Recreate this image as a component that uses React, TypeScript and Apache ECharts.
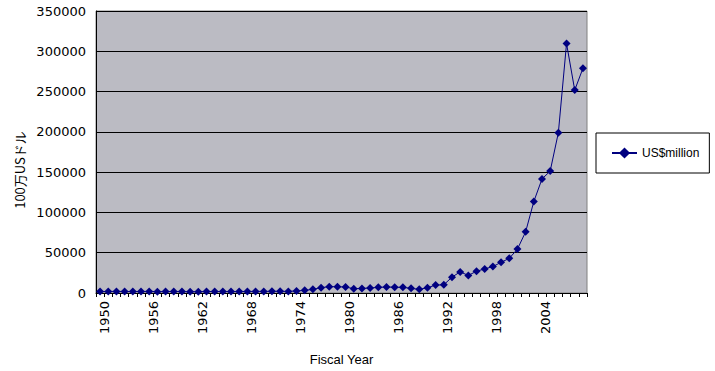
import React, { useEffect, useRef } from "react";
import * as echarts from "echarts";

const years: string[] = [];
for (let y = 1950; y <= 2009; y++) years.push(String(y));

const usMillion: number[] = [
  1800, 1900, 2000, 1900, 1800, 1900, 2000, 1700, 1800, 1900,
  1800, 1600, 1700, 1800, 1900, 1800, 1800, 1800, 1900, 2000,
  2000, 2100, 2100, 2000, 2500, 3300, 4500, 6600, 7800, 7800,
  7400, 5300, 5700, 6200, 7000, 7400, 7200, 7000, 5800, 4500,
  6500, 9800, 10200, 19700, 26200, 21800, 27000, 29900, 32800, 38100,
  43000, 54500, 75900, 113500, 141500, 151300, 198900, 309600, 251800, 278800,
];

const seriesName = "US$million";
const yAxisTitle = "100万USドル";
const xAxisTitle = "Fiscal Year";

export default function App() {
  const ref = useRef<HTMLDivElement>(null);
  useEffect(() => {
    if (!ref.current) return;
    const chart = echarts.init(ref.current, undefined, { renderer: "svg" });
    const numFont = "DejaVu Sans";
    chart.setOption({
      animation: false,
      backgroundColor: "#ffffff",
      grid: {
        left: 96,
        top: 11,
        width: 491,
        height: 284,
        show: true,
        backgroundColor: "#BBBBC3",
        borderColor: "#808080",
        borderWidth: 1,
      },
      legend: {
        left: 596,
        top: 133,
        orient: "vertical",
        backgroundColor: "#ffffff",
        borderColor: "#000000",
        borderWidth: 1,
        borderRadius: 0,
        padding: [14, 10, 14, 15],
        itemWidth: 25,
        itemHeight: 14,
        textStyle: { fontFamily: "Liberation Sans", fontSize: 12, color: "#000" },
        data: [seriesName],
      },
      xAxis: {
        type: "category",
        data: years,
        boundaryGap: true,
        name: xAxisTitle,
        nameLocation: "middle",
        nameGap: 60,
        nameTextStyle: { fontFamily: "Liberation Sans", fontSize: 13, color: "#000" },
        axisLine: { lineStyle: { color: "#000", width: 1 } },
        axisTick: { show: true, interval: 0, length: 4, lineStyle: { color: "#000" } },
        axisLabel: {
          interval: 5,
          rotate: 90,
          margin: 8,
          fontFamily: numFont,
          fontSize: 13,
          color: "#000",
          verticalAlign: "top",
          lineHeight: 8,
        },
        splitLine: { show: false },
      },
      yAxis: {
        type: "value",
        min: 0,
        max: 350000,
        interval: 50000,
        axisLine: { show: true, lineStyle: { color: "#000", width: 1 } },
        axisTick: { show: false },
        axisLabel: {
          margin: 10,
          fontFamily: numFont,
          fontSize: 13,
          color: "#000",
          formatter: (v: number) => String(v),
        },
        splitLine: { show: true, lineStyle: { color: "#000", width: 1 } },
      },
      graphic: [
        {
          type: "text",
          x: 19,
          y: 170,
          rotation: Math.PI / 2,
          style: {
            text: yAxisTitle,
            fontFamily: "Noto Sans CJK JP",
            fontSize: 13,
            fill: "#000",
            align: "center",
            verticalAlign: "middle",
          },
        },
      ],
      series: [
        {
          name: seriesName,
          type: "line",
          data: usMillion,
          symbol: "diamond",
          symbolSize: 8,
          showAllSymbol: true,
          lineStyle: { color: "#000080", width: 1 },
          itemStyle: { color: "#000080" },
        },
      ],
    });
    return () => chart.dispose();
  }, []);
  return (
    <div
      ref={ref}
      style={{ width: 715, height: 371, position: "absolute", left: 0, top: 0 }}
    />
  );
}
